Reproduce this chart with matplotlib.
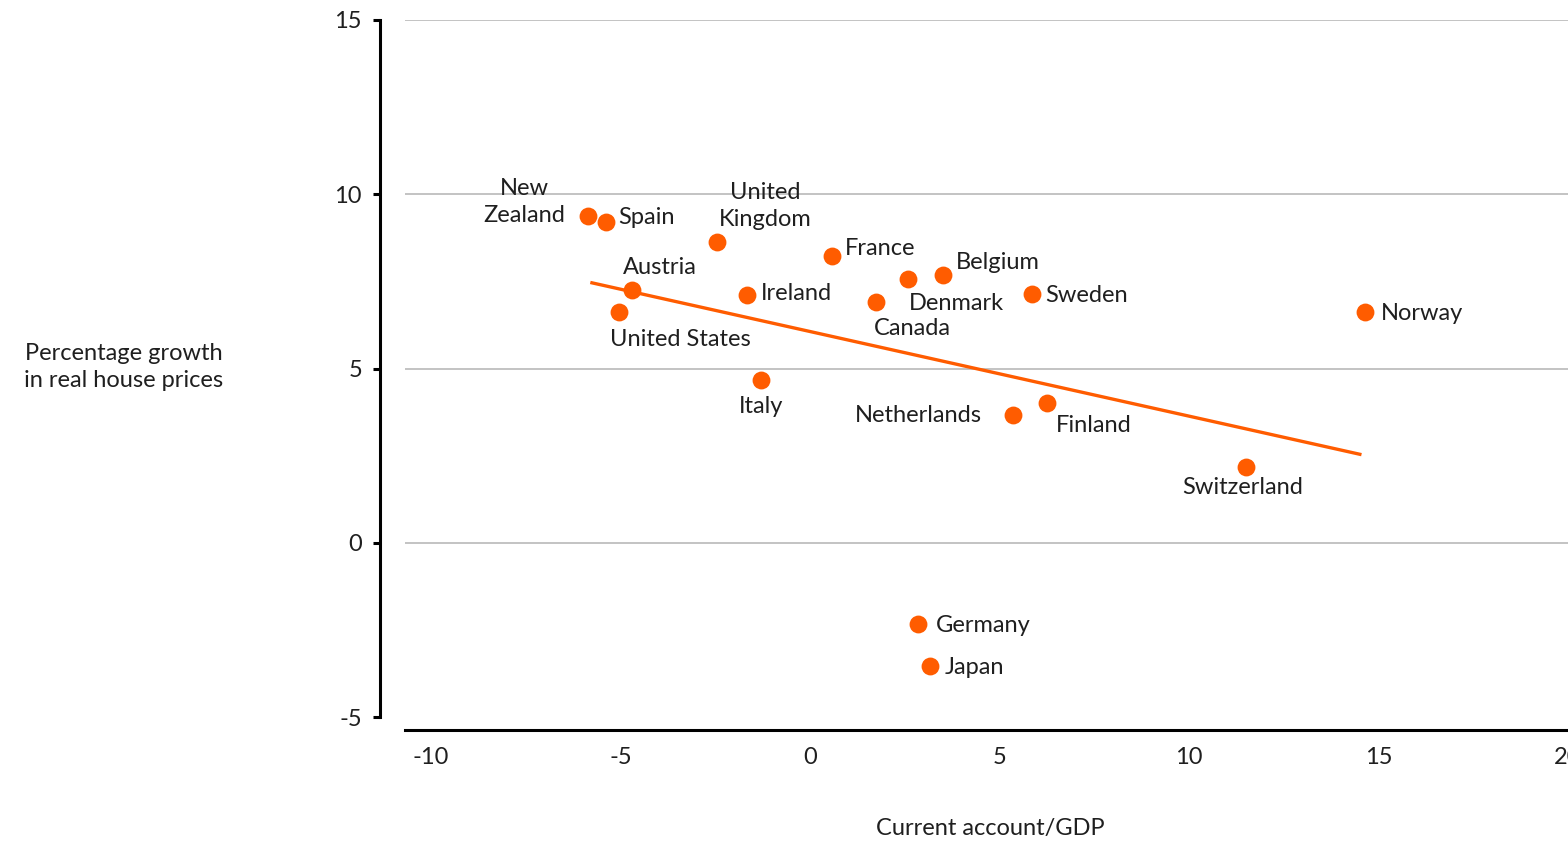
import matplotlib
matplotlib.use('Agg')
import matplotlib.pyplot as plt

# data
countries = ["New\nZealand", "Spain", "United\nKingdom", "France", "Austria",
             "United States", "Ireland", "Denmark", "Belgium", "Canada",
             "Sweden", "Norway", "Italy", "Netherlands", "Finland",
             "Switzerland", "Germany", "Japan"]
current_account = [-5.86, -5.38, -2.45, 0.58, -4.70, -5.04, -1.66, 2.59, 3.51,
                   1.74, 5.86, 14.64, -1.29, 5.36, 6.25, 11.50, 2.85, 3.17]
house_growth = [9.37, 9.20, 8.62, 8.22, 7.24, 6.61, 7.10, 7.56, 7.67, 6.90,
                7.13, 6.61, 4.68, 3.68, 4.02, 2.18, -2.33, -3.53]
trend_x = [-5.8, 14.55]
trend_y = [7.47, 2.53]
x_ticks = [-10, -5, 0, 5, 10, 15, 20]
y_ticks = [-5, 0, 5, 10, 15]

ORANGE = '#ff5c00'
TEXT = '#1f1f1f'
FONT = 'Lato'
FS = 17

# label placement: (dx px, dy px, horizontal alignment)
label_pos = {
    "New\nZealand": (-23, 14, 'right'),
    "Spain": (12, 5, 'left'),
    "United\nKingdom": (48, 36, 'center'),
    "France": (13, 8, 'left'),
    "Austria": (28, 23, 'center'),
    "United States": (61, -27, 'center'),
    "Ireland": (14, 2, 'left'),
    "Denmark": (48, -24, 'center'),
    "Belgium": (13, 13, 'left'),
    "Canada": (36, -26, 'center'),
    "Sweden": (13, -1, 'left'),
    "Norway": (16, -1, 'left'),
    "Italy": (0, -27, 'center'),
    "Netherlands": (-31, -1, 'right'),
    "Finland": (9, -23, 'left'),
    "Switzerland": (-3, -21, 'center'),
    "Germany": (18, -1, 'left'),
    "Japan": (14, -2, 'left'),
}

fig = plt.figure(figsize=(15.68, 8.41), dpi=100)
ax = fig.add_axes([405 / 1568, 111 / 841, 1163 / 1568, 710 / 841])
ax.set_xlim(-10.69, 20.0)
ax.set_ylim(-5.37, 15.0)

# gridlines
for yv in y_ticks[1:]:
    ax.axhline(yv, color='#b3b3b3', lw=1.1, zorder=1)

# spines
for side in ['top', 'right']:
    ax.spines[side].set_visible(False)
ax.spines['left'].set_position(('outward', 18))
ax.spines['left'].set_bounds(-5, 15)
ax.spines['left'].set_linewidth(2.2)
ax.spines['bottom'].set_linewidth(2.2)

ax.set_xticks(x_ticks)
ax.set_yticks(y_ticks)
ax.tick_params(axis='x', length=0, pad=12, labelsize=FS, labelcolor=TEXT)
ax.tick_params(axis='y', length=5, width=2.2, pad=8, labelsize=FS, labelcolor=TEXT)
ax.set_xticklabels([str(v) for v in x_ticks], fontfamily=FONT)
ax.set_yticklabels([str(v) for v in y_ticks], fontfamily=FONT)

# trend line and points
ax.plot(trend_x, trend_y, color=ORANGE, lw=2.4, zorder=2, solid_capstyle='butt')
ax.scatter(current_account, house_growth, s=165, color=ORANGE, zorder=3,
           linewidths=0)

for name, xv, yv in zip(countries, current_account, house_growth):
    dx, dy, ha = label_pos[name]
    ax.annotate(name, xy=(xv, yv), xytext=(dx, dy), textcoords='offset pixels',
                ha=ha, va='center', multialignment='center', fontsize=FS,
                fontfamily=FONT, color=TEXT, linespacing=1.35, zorder=4)

fig.text(124 / 1568, 1 - 367 / 841, "Percentage growth\nin real house prices",
         ha='center', va='center', fontsize=FS, fontfamily=FONT, color=TEXT,
         linespacing=1.35)
fig.text(990 / 1568, 1 - 829 / 841, "Current account/GDP", ha='center',
         va='center', fontsize=FS, fontfamily=FONT, color=TEXT)

fig.savefig('out.png', dpi=100, facecolor='white')
